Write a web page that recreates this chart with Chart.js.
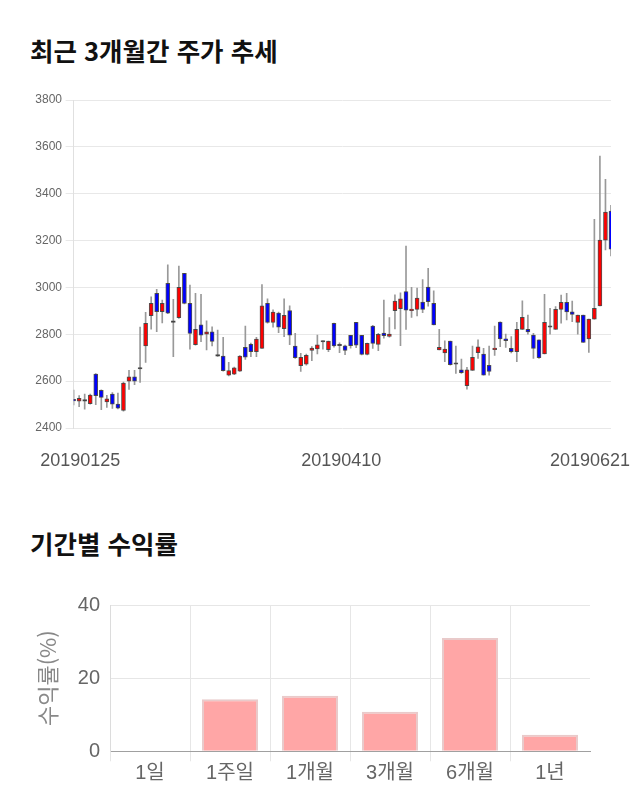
<!DOCTYPE html>
<html lang="ko">
<head>
<meta charset="utf-8">
<title>주가 추세 / 기간별 수익률</title>
<script src="https://cdn.jsdelivr.net/npm/chart.js@4.4.1/dist/chart.umd.min.js"></script>
<style>
    html, body { margin: 0; padding: 0; background: #fff; }
    body { width: 640px; height: 810px; position: relative; overflow: hidden; }
    .titulo {
        position: absolute; left: 30px;
        font-family: 'Noto Sans CJK KR', sans-serif; font-weight: bold;
        font-size: 25.5px; line-height: 30px; color: #111;
    }
    .caja { position: absolute; left: 0; width: 640px; }
</style>
</head>
<body>
<div class="titulo" style="top:35px">최근 3개월간 주가 추세</div>
<div class="caja" style="top:80px;height:400px"><canvas id="chart-precio"></canvas></div>

<div class="titulo" style="top:528px">기간별 수익률</div>
<div class="caja" style="top:583px;height:227px"><canvas id="chart-retorno"></canvas></div>

<script>
// ============================================
// Datos
// ============================================

// Velas diarias (20190125 ~ 20190621)
const aperturas = [
    2522, 2515, 2515, 2504, 2630, 2561, 2511, 2545, 2502, 2475,
    2600, 2618, 2652, 2750, 2879, 2975, 2897, 3018, 2851, 2871,
    3060, 2932, 2756, 2840, 2800, 2811, 2707, 2707, 2625, 2630,
    2643, 2744, 2757, 2726, 2740, 2932, 2851, 2891, 2824, 2901,
    2750, 2666, 2672, 2731, 2738, 2767, 2734, 2847, 2751, 2751,
    2796, 2851, 2796, 2714, 2835, 2757, 2805, 2791, 2901, 2909,
    2982, 2901, 2906, 2937, 3002, 2932, 2733, 2720, 2771, 2672,
    2648, 2581, 2646, 2721, 2716, 2667, 2734, 2852, 2781, 2740,
    2726, 2821, 2821, 2797, 2776, 2716, 2830, 2821, 2906, 2936,
    2896, 2851, 2882, 2780, 2865, 2921, 3202, 3326
];
const maximos = [
    2562, 2538, 2545, 2545, 2632, 2563, 2539, 2551, 2549, 2596,
    2646, 2646, 2831, 2894, 2960, 2992, 2946, 3096, 2949, 3091,
    3060, 3010, 2975, 2971, 2857, 2832, 2818, 2787, 2680, 2660,
    2709, 2835, 2762, 2787, 3012, 2951, 2904, 2895, 2951, 2921,
    2804, 2719, 2715, 2747, 2797, 2772, 2771, 2848, 2764, 2754,
    2796, 2851, 2796, 2762, 2838, 2804, 2946, 2871, 2968, 2977,
    3177, 3000, 2997, 3034, 3082, 2986, 2821, 2772, 2771, 2750,
    2694, 2659, 2750, 2776, 2740, 2750, 2835, 2853, 2801, 2790,
    2851, 2943, 2882, 2804, 2776, 2971, 2911, 2918, 2967, 2975,
    2942, 2882, 2882, 2865, 3291, 3561, 3461, 3350
];
const minimos = [
    2498, 2491, 2480, 2502, 2500, 2478, 2488, 2484, 2481, 2472,
    2565, 2585, 2595, 2680, 2822, 2811, 2848, 2888, 2704, 2868,
    2930, 2737, 2754, 2768, 2733, 2750, 2705, 2643, 2622, 2628,
    2641, 2693, 2704, 2704, 2740, 2847, 2830, 2807, 2790, 2756,
    2697, 2641, 2668, 2687, 2716, 2736, 2726, 2745, 2721, 2713,
    2741, 2743, 2712, 2712, 2740, 2730, 2783, 2788, 2823, 2751,
    2821, 2872, 2878, 2892, 2920, 2840, 2733, 2683, 2668, 2633,
    2633, 2566, 2646, 2697, 2625, 2625, 2710, 2747, 2744, 2720,
    2683, 2821, 2800, 2697, 2697, 2716, 2801, 2821, 2847, 2861,
    2854, 2801, 2765, 2723, 2865, 2921, 3160, 3134
];
const cierres = [
    2516, 2527, 2515, 2541, 2538, 2531, 2525, 2502, 2485, 2592,
    2618, 2600, 2652, 2847, 2932, 2897, 2932, 2890, 2851, 3000,
    2932, 2804, 2821, 2796, 2811, 2770, 2707, 2645, 2645, 2657,
    2707, 2702, 2726, 2780, 2921, 2851, 2895, 2830, 2881, 2796,
    2700, 2702, 2710, 2741, 2755, 2767, 2771, 2750, 2751, 2731,
    2751, 2754, 2714, 2761, 2761, 2800, 2794, 2801, 2942, 2951,
    2903, 2908, 2955, 2906, 2939, 2840, 2744, 2737, 2670, 2672,
    2636, 2648, 2702, 2746, 2625, 2641, 2741, 2780, 2773, 2726,
    2821, 2872, 2810, 2740, 2700, 2851, 2830, 2906, 2936, 2895,
    2885, 2882, 2765, 2865, 2911, 3202, 3322, 3163
];

// Etiquetas del eje X (posición en índice de vela)
const fechasEje = ['20190125', '20190410', '20190621'];
const posFechasEje = [1.2, 48.3, 93.2];

// Rango del eje Y del precio
const precioMin = 2400;
const precioMax = 3800;
const precioPaso = 200;

// Rentabilidad por período
const periodos = ['1일', '1주일', '1개월', '3개월', '6개월', '1년'];
const rentabilidad = [0, 14.2, 15.2, 10.8, 31.0, 4.5];

// ============================================
// Gráfico de velas (barras flotantes)
// ============================================

function colorVela(i) {
    if (cierres[i] > aperturas[i]) return '#ff0000';
    if (cierres[i] < aperturas[i]) return '#0000ff';
    return '#333333';
}

const cuerpos = aperturas.map((o, i) => ({ x: i, y: [o, cierres[i]] }));
const mechas = maximos.map((h, i) => ({ x: i, y: [minimos[i], h] }));

const ctxPrecio = document.getElementById('chart-precio');
new Chart(ctxPrecio, {
    type: 'bar',
    data: {
        datasets: [
            {
                // cuerpos primero: se dibujan encima de las mechas
                data: cuerpos,
                backgroundColor: cuerpos.map((_, i) => colorVela(i)),
                borderColor: 'rgba(50, 50, 50, 0.85)',
                borderWidth: 1,
                borderSkipped: false,
                barThickness: 4,
                minBarLength: 1.5
            },
            {
                data: mechas,
                backgroundColor: '#999999',
                borderWidth: 0,
                barThickness: 1
            }
        ]
    },
    options: {
        responsive: true,
        maintainAspectRatio: false,
        animation: false,
        grouped: false,
        layout: { padding: { left: 0, right: 29, top: 20, bottom: 0 } },
        plugins: {
            legend: { display: false },
            tooltip: { enabled: false }
        },
        scales: {
            x: {
                type: 'linear',
                min: 0,
                max: aperturas.length - 1,
                offset: false,
                // sin rejilla; el largo de marca sólo separa las etiquetas
                grid: { display: false, drawTicks: true, tickLength: 22 },
                border: { display: false },
                afterBuildTicks: (s) => { s.ticks = posFechasEje.map(v => ({ value: v })); },
                afterFit: (s) => { s.height = 52; },
                ticks: {
                    autoSkip: false,
                    maxRotation: 0,
                    padding: 0,
                    color: '#555',
                    font: { family: 'Liberation Sans, sans-serif', size: 18 },
                    callback: (v) => {
                        const k = posFechasEje.indexOf(v);
                        return k >= 0 ? fechasEje[k] : '';
                    }
                }
            },
            y: {
                min: precioMin,
                max: precioMax,
                afterFit: (s) => { s.width = 73.6; },
                grid: { color: '#e8e8e8', tickLength: 8 },
                border: { color: '#e0e0e0' },
                ticks: {
                    stepSize: precioPaso,
                    padding: 3.6,
                    color: '#666',
                    font: { family: 'Liberation Sans, sans-serif', size: 12 },
                    callback: (v) => String(v)
                }
            }
        }
    }
});

// ============================================
// Gráfico de rentabilidad por período
// ============================================

const ctxRetorno = document.getElementById('chart-retorno');
new Chart(ctxRetorno, {
    type: 'bar',
    data: {
        labels: periodos,
        datasets: [{
            data: rentabilidad,
            backgroundColor: '#ffa6a6',
            borderColor: '#e9caca',
            borderWidth: (c) => (c.raw === 0 ? 0 : 2),
            barPercentage: 0.7,
            categoryPercentage: 1
        }]
    },
    options: {
        responsive: true,
        maintainAspectRatio: false,
        animation: false,
        layout: { padding: { left: 0, right: 50, top: 0, bottom: 0 } },
        plugins: {
            legend: { display: false },
            tooltip: { enabled: false }
        },
        scales: {
            x: {
                afterFit: (s) => { s.height = 58.7; },
                grid: {
                    offset: true,
                    tickLength: 10,
                    // la línea del borde derecho no aparece en el original
                    color: (c) => (c.tick ? '#e6e6e6' : 'rgba(0,0,0,0)')
                },
                border: { color: '#a0a0a0' },
                ticks: {
                    padding: 0,
                    color: '#666',
                    font: { family: "Liberation Sans, 'Noto Sans CJK KR', sans-serif", size: 20 }
                }
            },
            y: {
                min: 0,
                max: 40,
                afterFit: (s) => { s.width = 110; },
                grid: {
                    drawTicks: false,
                    color: (c) => (c.tick && c.tick.value === 0 ? '#a0a0a0' : '#e6e6e6')
                },
                border: { color: '#dcdcdc' },
                title: {
                    display: true,
                    text: '수익률(%)',
                    color: '#888',
                    padding: { top: 34, bottom: 0 },
                    font: { family: "'Noto Sans CJK KR', sans-serif", size: 22 }
                },
                ticks: {
                    stepSize: 20,
                    padding: 10,
                    color: '#666',
                    font: { family: 'Liberation Sans, sans-serif', size: 20 }
                }
            }
        }
    }
});
</script>
</body>
</html>
